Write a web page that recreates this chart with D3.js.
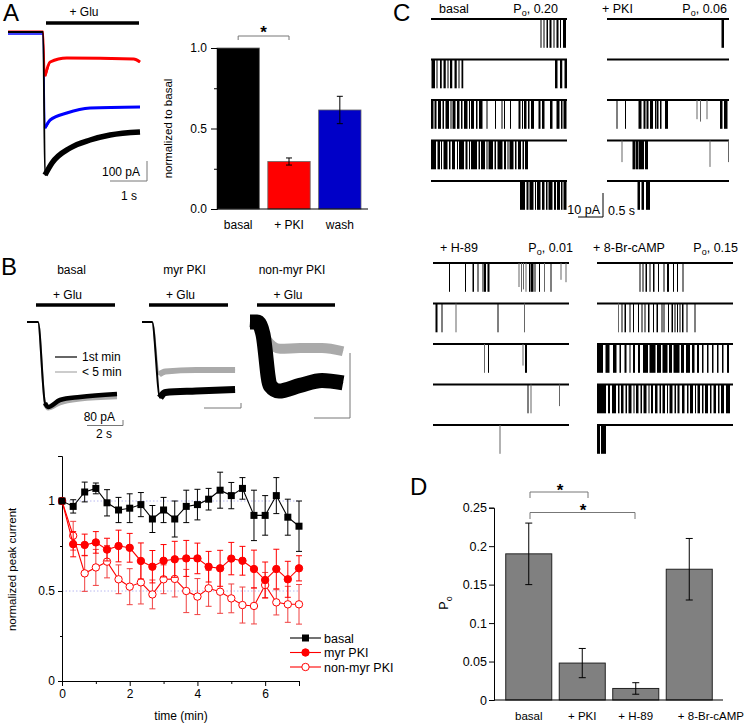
<!DOCTYPE html>
<html>
<head>
<meta charset="utf-8">
<script src="https://cdn.jsdelivr.net/npm/d3@7"></script>
<style>
	body { margin: 0; background: #fff; }
	svg { font-family: 'Liberation Sans', Arial, sans-serif; }
</style>
</head>
<body>
<div id="figure"></div>
<script>
// ---------- data ----------
// panel A, bar chart (normalized to basal)
const aCategories = ['basal', '+ PKI', 'wash'];
const aValues = [1.0, 0.295, 0.615];
const aErrors = [0, 0.022, 0.085];
const aColors = ['#000000', '#ff0000', '#0000c8'];
const aTicks = [0, 0.25, 0.5, 0.75, 1];

// panel A, whole-cell traces: [time (s), current (pA)]
const aTraceBasal = [[0, 0], [0.95, 0], [1.0, -715], [1.19, -655], [1.68, -580], [2.22, -540], [2.76, -515], [3.57, -500]];
const aTracePKI = [[0, 3], [0.95, 3], [1.0, -220], [1.14, -150], [1.59, -130], [3.4, -135], [3.57, -150]];
const aTraceWash = [[0, -10], [0.95, -10], [1.0, -480], [1.14, -440], [1.59, -405], [2.22, -380], [3.57, -375]];

// panel B, traces: [time (s), current (pA)], 1st min (black) and < 5 min (gray)
const bBasalFirst = [[0, 0], [0.61, 0], [1.0, -1080], [1.17, -1133], [1.83, -1040], [2.94, -1000], [5.0, -960]];
const bBasalLate = [[0, 0], [0.61, 0], [1.0, -1090], [1.17, -1150], [1.83, -1080], [2.94, -1030], [5.0, -1000]];
const bMyrFirst = [[0, 0], [0.56, 0], [1.0, -1010], [1.3, -940], [3.0, -920], [5.17, -900]];
const bMyrLate = [[0, 0], [0.56, 0], [0.95, -700], [1.3, -660], [3.0, -640], [5.17, -640]];
const bNonMyrFirst = [[0, 0], [0.4, 0], [0.72, -15], [1.11, -78], [1.6, -85], [2.78, -78], [4.0, -72], [5.17, -75]];
const bNonMyrLate = [[0, 0], [0.5, -5], [0.94, -22], [1.67, -33], [2.78, -32], [4.0, -32], [5.17, -36]];

// panel B, time course
const bTimes = [0, 0.33, 0.67, 1, 1.33, 1.67, 2, 2.33, 2.67, 3, 3.33, 3.67, 4, 4.33, 4.67, 5, 5.33, 5.67, 6, 6.33, 6.67, 7];
const bBasal = [1, 0.97, 1.05, 1.07, 0.99, 0.95, 0.96, 0.98, 0.9, 0.95, 0.9, 0.97, 0.98, 1.01, 1.06, 1.03, 1.07, 0.92, 0.92, 1.03, 0.91, 0.86];
const bBasalErr = [0, 0.037, 0.055, 0.03, 0.073, 0.07, 0.08, 0.067, 0.075, 0.07, 0.1, 0.09, 0.085, 0.06, 0.1, 0.073, 0.06, 0.14, 0.11, 0.1, 0.1, 0.14];
const bMyr = [1, 0.76, 0.756, 0.77, 0.73, 0.75, 0.74, 0.667, 0.635, 0.668, 0.676, 0.681, 0.681, 0.635, 0.626, 0.68, 0.668, 0.622, 0.561, 0.622, 0.565, 0.626];
const bMyrErr = [0, 0.07, 0.06, 0.06, 0.063, 0.088, 0.08, 0.1, 0.09, 0.09, 0.1, 0.1, 0.085, 0.085, 0.1, 0.09, 0.08, 0.105, 0.1, 0.11, 0.1, 0.07];
const bNonMyr = [1, 0.807, 0.598, 0.631, 0.663, 0.565, 0.524, 0.548, 0.481, 0.565, 0.567, 0.5, 0.469, 0.515, 0.496, 0.459, 0.422, 0.417, 0.533, 0.437, 0.426, 0.426];
const bNonMyrErr = [0, 0.08, 0.1, 0.1, 0.09, 0.08, 0.1, 0.12, 0.08, 0.08, 0.1, 0.12, 0.1, 0.1, 0.12, 0.08, 0.1, 0.1, 0.07, 0.07, 0.1, 0.11];
const bSeriesNames = ['basal', 'myr PKI', 'non-myr PKI'];

// panel C, single-channel openings per sweep: [start (s), duration (s), amplitude (pA, default 12)]
const cBasalRows = [
	[[2.19, 0.02], [2.25, 0.02], [2.31, 0.03], [2.37, 0.04], [2.45, 0.02], [2.51, 0.04], [2.58, 0.02], [2.64, 0.06]],
	[[0.01, 0.07], [0.11, 0.02], [0.18, 0.035], [0.25, 0.045], [0.33, 0.02], [0.38, 0.045], [0.47, 0.045], [0.55, 0.02], [0.61, 0.035], [2.48, 0.05], [2.58, 0.045], [2.67, 0.05]],
	[[0.0, 0.05], [0.07, 0.04], [0.14, 0.06], [0.23, 0.03], [0.29, 0.07], [0.39, 0.02], [0.43, 0.06], [0.52, 0.05], [0.6, 0.03], [0.66, 0.07], [0.76, 0.02], [0.8, 0.06], [0.9, 0.03], [0.96, 0.07], [1.11, 0.02], [1.28, 0.02], [1.41, 0.02], [1.46, 0.02], [1.58, 0.02], [1.75, 0.04], [1.82, 0.02], [1.86, 0.05], [1.94, 0.03], [2.0, 0.06], [2.15, 0.04], [2.22, 0.05], [2.38, 0.05], [2.51, 0.06], [2.6, 0.03], [2.65, 0.06]],
	[[0.0, 0.1], [0.13, 0.05], [0.2, 0.02], [0.25, 0.08], [0.36, 0.03], [0.42, 0.06], [0.52, 0.02], [0.56, 0.1], [0.69, 0.04], [0.76, 0.02], [0.8, 0.12], [0.95, 0.03], [1.0, 0.08], [1.11, 0.02], [1.15, 0.09], [1.27, 0.03], [1.33, 0.1], [1.46, 0.04], [1.53, 0.02], [1.57, 0.08], [1.68, 0.03], [1.74, 0.06], [1.83, 0.03], [1.88, 0.06]],
	[[1.78, 0.1], [1.91, 0.04], [1.97, 0.08], [2.08, 0.02], [2.12, 0.07], [2.22, 0.05], [2.3, 0.03], [2.35, 0.08], [2.46, 0.04], [2.52, 0.06], [2.6, 0.03], [2.65, 0.06]]
];
const cPKIRows = [
	[[2.29, 0.05]],
	[],
	[[0.19, 0.02], [0.36, 0.02], [0.63, 0.06], [0.73, 0.04], [0.79, 0.04], [0.86, 0.06], [0.96, 0.03], [1.0, 0.03], [1.06, 0.03], [1.16, 0.06], [1.79, 0.01, 8], [1.86, 0.01, 9], [1.99, 0.01, 8], [2.26, 0.05], [2.34, 0.07]],
	[[0.29, 0.01, 9], [0.51, 0.06], [0.58, 0.05], [0.64, 0.1], [0.76, 0.06], [2.05, 0.01, 11], [2.42, 0.01, 9]],
	[[0.61, 0.05], [0.69, 0.05], [0.78, 0.08]]
];
const cH89Rows = [
	[[0.32, 0.02], [0.64, 0.02], [0.79, 0.03], [0.89, 0.02], [0.99, 0.02], [1.02, 0.04], [1.09, 0.04], [1.71, 0.01, 10], [1.76, 0.01], [1.8, 0.01, 11], [1.85, 0.01], [1.92, 0.02], [1.95, 0.06], [2.03, 0.02], [2.12, 0.02], [2.22, 0.01], [2.35, 0.02], [2.55, 0.01, 7], [2.65, 0.01, 8]],
	[[0.05, 0.04], [0.17, 0.02], [0.45, 0.01], [1.29, 0.02], [1.82, 0.01]],
	[[1.02, 0.01], [1.1, 0.02], [1.79, 0.01, 9], [1.84, 0.04]],
	[[1.89, 0.02], [1.95, 0.01], [2.52, 0.01, 9]],
	[[1.33, 0.01]]
];
const cCampRows = [
	[[0.85, 0.02], [0.91, 0.02], [0.97, 0.03], [1.05, 0.02], [1.12, 0.03], [1.22, 0.02], [1.33, 0.02], [1.4, 0.04], [1.52, 0.02], [1.6, 0.02], [1.71, 0.02]],
	[[0.42, 0.01], [0.49, 0.02], [0.55, 0.03], [0.65, 0.02], [0.72, 0.02], [0.82, 0.02], [0.89, 0.02], [0.95, 0.02], [1.02, 0.03], [1.12, 0.02], [1.19, 0.03], [1.29, 0.02], [1.33, 0.02], [1.42, 0.02], [1.49, 0.03], [1.55, 0.02], [1.6, 0.02], [1.65, 0.02], [1.7, 0.03], [1.79, 0.02], [1.95, 0.02]],
	[[0, 0.12], [0.17, 0.08], [0.32, 0.07], [0.45, 0.03], [0.55, 0.04], [0.65, 0.02], [0.72, 0.04], [0.82, 0.04], [0.92, 0.1], [1.05, 0.12], [1.2, 0.08], [1.31, 0.1], [1.44, 0.06], [1.53, 0.12], [1.68, 0.06], [1.78, 0.08], [1.9, 0.05], [2.0, 0.04], [2.1, 0.03], [2.2, 0.03], [2.3, 0.03], [2.4, 0.03], [2.5, 0.03], [2.6, 0.04]],
	[[0.0, 0.18], [0.22, 0.04], [0.3, 0.08], [0.42, 0.03], [0.48, 0.05], [0.57, 0.03], [0.63, 0.06], [0.73, 0.02], [0.78, 0.05], [0.87, 0.03], [0.93, 0.06], [1.03, 0.02], [1.08, 0.04], [1.16, 0.05], [1.25, 0.03], [1.31, 0.05], [1.4, 0.02], [1.45, 0.06], [1.55, 0.03], [1.61, 0.04], [1.7, 0.05], [1.8, 0.03], [1.86, 0.06], [1.96, 0.02], [2.01, 0.05], [2.1, 0.03], [2.16, 0.06], [2.26, 0.03], [2.33, 0.05], [2.42, 0.03], [2.48, 0.06], [2.58, 0.08]],
	[[0, 0.06], [0.08, 0.1]]
];
const cSweepLength = [2.72, 2.44, 2.72, 2.72]; // s
const cConditions = ['basal', '+ PKI', '+ H-89', '+ 8-Br-cAMP'];
const cPo = ['0.20', '0.06', '0.01', '0.15'];

// panel D, open probability
const dCategories = ['basal', '+ PKI', '+ H-89', '+ 8-Br-cAMP'];
const dValues = [0.19, 0.048, 0.015, 0.17];
const dErrors = [0.04, 0.019, 0.0075, 0.04];
const dTicks = [0, 0.05, 0.1, 0.15, 0.2, 0.25];

// ---------- drawing ----------
const svg = d3.select('#figure').append('svg').attr('width', 745).attr('height', 723);

const letter = (txt, x, y) => {
	svg.append('text').attr('x', x).attr('y', y).attr('font-size', 24).text(txt);
};
const label = (g, txt, x, y, anchor, size) => {
	return g.append('text').attr('x', x).attr('y', y).attr('text-anchor', anchor || 'middle').attr('font-size', size || 12).text(txt);
};
const styleAxis = (g, size) => {
	g.selectAll('path.domain').attr('stroke', '#000');
	g.selectAll('.tick line').attr('stroke', '#000');
	g.selectAll('.tick text').attr('font-size', size || 12).attr('font-family', null).attr('fill', '#000');
};
const errPath = (cx, hi, lo, cap) => 'M' + (cx - cap) + ',' + hi + 'H' + (cx + cap) + 'M' + cx + ',' + hi + 'V' + lo + 'M' + (cx - cap) + ',' + lo + 'H' + (cx + cap);
const traceLine = (xs, ys) => d3.line().x((d) => xs(d[0])).y((d) => ys(d[1])).curve(d3.curveMonotoneX);
// thin line for the whole trace, then a wide band (the noise) from the peak onwards
const drawTrace = (g, xs, ys, pts, color, thin, wide, from) => {
	g.append('path').attr('d', traceLine(xs, ys)(pts)).attr('fill', 'none').attr('stroke', color).attr('stroke-width', thin).attr('stroke-linejoin', 'round');
	g.append('path').attr('d', traceLine(xs, ys)(pts.slice(from))).attr('fill', 'none').attr('stroke', color).attr('stroke-width', wide).attr('stroke-linejoin', 'round');
};

letter('A', 3, 21);
letter('B', 1, 275);
letter('C', 393, 21);
letter('D', 410, 495);

// ===== panel A traces =====
var gAt = svg.append('g');
var atX = d3.scaleLinear().domain([0, 3.57]).range([8, 140]);
var atY = d3.scaleLinear().domain([0, -100]).range([32, 52]); // 100 pA = 20 px
drawTrace(gAt, atX, atY, aTraceWash, '#0000ff', 1.6, 3, 2);
drawTrace(gAt, atX, atY, aTracePKI, '#ff0000', 1.6, 3, 2);
drawTrace(gAt, atX, atY, aTraceBasal, '#000', 1.8, 5.5, 2);
gAt.append('line').attr('x1', 46).attr('x2', 139).attr('y1', 23).attr('y2', 23).attr('stroke', '#000').attr('stroke-width', 3.5);
label(gAt, '+ Glu', 84, 16, 'middle', 12);
// scale bar 100 pA / 1 s
gAt.append('path').attr('d', 'M110,181H147V161').attr('fill', 'none').attr('stroke', '#777').attr('stroke-width', 1);
label(gAt, '100 pA', 140, 176, 'end', 12);
label(gAt, '1 s', 137, 200, 'end', 12);

// ===== panel A bars =====
var gA = svg.append('g');
var aX = d3.scaleBand().domain(aCategories).range([217, 361]).paddingInner(0.167).paddingOuter(0);
var aY = d3.scaleLinear().domain([0, 1]).range([209, 48]);

gA.selectAll('rect.bar')
	.data(aValues)
	.enter()
	.append('rect')
	.attr('class', 'bar')
	.attr('x', (d, i) => aX(aCategories[i]))
	.attr('y', (d) => aY(d))
	.attr('width', aX.bandwidth())
	.attr('height', (d) => aY(0) - aY(d))
	.attr('fill', (d, i) => aColors[i])
	.attr('stroke', '#666')
	.attr('stroke-width', 0.8);

gA.selectAll('path.err')
	.data(aValues)
	.enter()
	.append('path')
	.attr('class', 'err')
	.attr('d', (d, i) => aErrors[i] > 0 ? errPath(aX(aCategories[i]) + aX.bandwidth() / 2, aY(d + aErrors[i]), aY(d - aErrors[i]), 3) : null)
	.attr('stroke', '#000')
	.attr('fill', 'none');

var aAxis = gA.append('g')
	.attr('transform', 'translate(217,0)')
	.call(d3.axisLeft(aY).tickValues(aTicks).tickSize(6).tickPadding(4).tickFormat((d) => (d * 2) % 1 === 0 ? d3.format('.1f')(d) : ''));
styleAxis(aAxis, 12);
aAxis.selectAll('.tick line').filter((d) => (d * 2) % 1 !== 0).attr('x2', -3);
gA.append('line').attr('x1', 217).attr('x2', 368).attr('y1', aY(0)).attr('y2', aY(0)).attr('stroke', '#000');
aCategories.forEach((c) => label(gA, c, aX(c) + aX.bandwidth() / 2, 229, 'middle', 12));
label(gA, 'normalized to basal', 0, 0, 'middle', 11.5).attr('transform', 'translate(172,' + aY(0.5) + ') rotate(-90)');
// significance bracket basal vs +PKI
var ax1 = aX('basal') + aX.bandwidth() / 2, ax2 = aX('+ PKI') + aX.bandwidth() / 2;
gA.append('path').attr('d', 'M' + ax1 + ',40V36H' + ax2 + 'V40').attr('fill', 'none').attr('stroke', '#777');
label(gA, '*', (ax1 + ax2) / 2, 38, 'middle', 17).attr('font-weight', 'bold');

// ===== panel B traces =====
var gBt = svg.append('g');
var bPanels = [
	{ x0: 27, name: 'basal', glu: [36, 115], first: bBasalFirst, late: bBasalLate, pxPer80: 6, wF: 4.5, wL: 4.5, from: 2 },
	{ x0: 142, name: 'myr PKI', glu: [149, 228], first: bMyrFirst, late: bMyrLate, pxPer80: 6, wF: 7, wL: 6, from: 2 },
	{ x0: 250, name: 'non-myr PKI', glu: [257, 335], first: bNonMyrFirst, late: bNonMyrLate, pxPer80: 65, wF: 15, wL: 10, from: 0 }
];
bPanels.forEach((p) => {
	var xs = d3.scaleLinear().domain([0, 1]).range([p.x0, p.x0 + 18]); // 2 s = 36 px
	var ys = d3.scaleLinear().domain([0, -80]).range([322, 322 + p.pxPer80]);
	drawTrace(gBt, xs, ys, p.late, '#aaaaaa', 2, p.wL, p.from);
	drawTrace(gBt, xs, ys, p.first, '#000', 2, p.wF, p.from);
	gBt.append('line').attr('x1', p.glu[0]).attr('x2', p.glu[1]).attr('y1', 305).attr('y2', 305).attr('stroke', '#000').attr('stroke-width', 3.5);
	label(gBt, '+ Glu', (p.glu[0] + p.glu[1]) / 2 - 8, 299, 'middle', 12);
	label(gBt, p.name, (p.glu[0] + p.glu[1]) / 2 - 4, 274, 'middle', 12);
});
// legend of trace panel
gBt.append('line').attr('x1', 55).attr('x2', 77).attr('y1', 357).attr('y2', 357).attr('stroke', '#000').attr('stroke-width', 1.2);
gBt.append('line').attr('x1', 55).attr('x2', 77).attr('y1', 372).attr('y2', 372).attr('stroke', '#aaa').attr('stroke-width', 1.2);
label(gBt, '1st min', 82, 361, 'start', 12);
label(gBt, '< 5 min', 82, 376, 'start', 12);
// scale bars
gBt.append('path').attr('d', 'M87,425.5H123V420').attr('fill', 'none').attr('stroke', '#777');
label(gBt, '80 pA', 115, 421, 'end', 12);
label(gBt, '2 s', 104, 438, 'middle', 12);
gBt.append('path').attr('d', 'M204,408H241V403').attr('fill', 'none').attr('stroke', '#777');
gBt.append('path').attr('d', 'M314,418H350V353').attr('fill', 'none').attr('stroke', '#777');

// ===== panel B time course =====
var gB = svg.append('g');
var bX = d3.scaleLinear().domain([0, 7]).range([62, 299]);
var bY = d3.scaleLinear().domain([0, 1.25]).range([681, 456]);

[1, 0.5].forEach((v) => {
	gB.append('line').attr('x1', bX(0)).attr('x2', bX(7)).attr('y1', bY(v)).attr('y2', bY(v))
		.attr('stroke', '#b8b8f0').attr('stroke-dasharray', '1.5,2').attr('stroke-width', 1);
});

var bxAxis = gB.append('g').attr('transform', 'translate(0,681)')
	.call(d3.axisBottom(bX).tickValues([0, 1, 2, 3, 4, 5, 6, 7]).tickSize(5).tickFormat((d) => d % 2 === 0 ? d : ''));
styleAxis(bxAxis, 12);
bxAxis.selectAll('.tick line').filter((d) => d % 2 !== 0).attr('y2', 3);
var byAxis = gB.append('g').attr('transform', 'translate(62,0)')
	.call(d3.axisLeft(bY).tickValues([0, 0.25, 0.5, 0.75, 1, 1.25]).tickSize(4).tickPadding(3).tickFormat((d) => (d * 2) % 1 === 0 && d <= 1 ? d : ''));
styleAxis(byAxis, 12);
byAxis.selectAll('.tick line').filter((d) => (d * 2) % 1 !== 0).attr('x2', -2);
label(gB, 'time (min)', 181, 720, 'middle', 12);
label(gB, 'normalized peak current', 0, 0, 'middle', 11.5).attr('transform', 'translate(16,' + bY(0.62) + ') rotate(-90)');

var bSeries = [
	{ v: bNonMyr, e: bNonMyrErr, color: '#ff0000', err: '#f04040', shape: 'open' },
	{ v: bMyr, e: bMyrErr, color: '#ff0000', err: '#ff0000', shape: 'dot' },
	{ v: bBasal, e: bBasalErr, color: '#000', err: '#000', shape: 'square' }
];
bSeries.forEach((s) => {
	var g = gB.append('g');
	g.selectAll('path.err')
		.data(s.v)
		.enter()
		.append('path')
		.attr('class', 'err')
		.attr('d', (d, i) => s.e[i] > 0 ? errPath(bX(bTimes[i]), bY(d + s.e[i]), bY(d - s.e[i]), 3) : null)
		.attr('stroke', s.err)
		.attr('fill', 'none');
	g.append('path')
		.datum(s.v)
		.attr('d', d3.line().x((d, i) => bX(bTimes[i])).y((d) => bY(d)))
		.attr('fill', 'none')
		.attr('stroke', s.color)
		.attr('stroke-width', 1.1);
	if (s.shape === 'square') {
		g.selectAll('rect')
			.data(s.v)
			.enter()
			.append('rect')
			.attr('x', (d, i) => bX(bTimes[i]) - 3.5)
			.attr('y', (d) => bY(d) - 3.5)
			.attr('width', 7)
			.attr('height', 7)
			.attr('fill', '#000');
	} else {
		g.selectAll('circle')
			.data(s.v)
			.enter()
			.append('circle')
			.attr('cx', (d, i) => bX(bTimes[i]))
			.attr('cy', (d) => bY(d))
			.attr('r', 3.7)
			.attr('fill', s.shape === 'open' ? '#fff' : '#ff0000')
			.attr('stroke', '#ff0000')
			.attr('stroke-width', 1);
	}
});
// legend
var legendY = [638, 652.5, 667];
var legendSeries = [bSeries[2], bSeries[1], bSeries[0]];
legendSeries.forEach((s, i) => {
	var y = legendY[i];
	gB.append('line').attr('x1', 290).attr('x2', 321).attr('y1', y).attr('y2', y).attr('stroke', s.color).attr('stroke-width', 1.1);
	if (s.shape === 'square') {
		gB.append('rect').attr('x', 302).attr('y', y - 3.5).attr('width', 7).attr('height', 7).attr('fill', '#000');
	} else {
		gB.append('circle').attr('cx', 305.5).attr('cy', y).attr('r', 3.7).attr('fill', s.shape === 'open' ? '#fff' : '#ff0000').attr('stroke', '#ff0000');
	}
	label(gB, bSeriesNames[i], 324, y + 4.5, 'start', 12.5);
});

// ===== panel C single channel =====
var gC = svg.append('g');
var cColumns = [
	{ rows: cBasalRows, x0: 431, top: 19, head: 13, condX: 439, poX: 558 },
	{ rows: cPKIRows, x0: 607, top: 19, head: 13, condX: 602, poX: 727 },
	{ rows: cH89Rows, x0: 433, top: 263, head: 252, condX: 440, poX: 573 },
	{ rows: cCampRows, x0: 597, top: 263, head: 252, condX: 593, poX: 738 }
];
var cAmp = d3.scaleLinear().domain([0, 10]).range([0, 24]); // 10 pA = 24 px
cColumns.forEach((col, ci) => {
	var xs = d3.scaleLinear().domain([0, 1]).range([col.x0, col.x0 + 50]); // 0.5 s = 25 px
	var rowY = d3.scaleLinear().domain([0, 4]).range([col.top, col.top + 162]);
	col.rows.forEach((events, ri) => {
		var y = rowY(ri);
		gC.append('line')
			.attr('x1', xs(0)).attr('x2', xs(cSweepLength[ci]))
			.attr('y1', y).attr('y2', y)
			.attr('stroke', '#000').attr('stroke-width', 2.2);
		gC.selectAll(null)
			.data(events)
			.enter()
			.append('rect')
			.attr('x', (d) => xs(d[0]))
			.attr('y', y)
			.attr('width', (d) => Math.max(1, xs(d[1]) - xs(0)))
			.attr('height', (d) => cAmp(d[2] || 12))
			.attr('fill', (d) => (d[1] <= 0.01 ? '#666' : '#000'));
	});
	label(gC, cConditions[ci], col.condX, col.head, 'start', 12.5);
	var po = gC.append('text').attr('x', col.poX).attr('y', col.head).attr('text-anchor', 'end').attr('font-size', 12.5);
	po.append('tspan').text('P');
	po.append('tspan').attr('font-size', 9).attr('dy', 3).text('o');
	po.append('tspan').attr('dy', -3).text(', ' + cPo[ci]);
});
// scale bar 10 pA / 0.5 s
gC.append('path').attr('d', 'M578,217H603V193').attr('fill', 'none').attr('stroke', '#000').attr('stroke-width', 1);
label(gC, '10 pA', 600, 214, 'end', 12.5);
label(gC, '0.5 s', 608, 215, 'start', 12.5);

// ===== panel D bars =====
var gD = svg.append('g');
var dX = d3.scaleBand().domain(dCategories).range([502, 716]).paddingInner(0.14).paddingOuter(0.07);
var dY = d3.scaleLinear().domain([0, 0.25]).range([700, 507.7]);

gD.selectAll('rect')
	.data(dValues)
	.enter()
	.append('rect')
	.attr('x', (d, i) => dX(dCategories[i]))
	.attr('y', (d) => dY(d))
	.attr('width', dX.bandwidth())
	.attr('height', (d) => dY(0) - dY(d))
	.attr('fill', '#808080')
	.attr('stroke', '#222')
	.attr('stroke-width', 1);

gD.selectAll('path.err')
	.data(dValues)
	.enter()
	.append('path')
	.attr('class', 'err')
	.attr('d', (d, i) => errPath(dX(dCategories[i]) + dX.bandwidth() / 2, dY(d + dErrors[i]), dY(d - dErrors[i]), 3.5))
	.attr('stroke', '#000')
	.attr('fill', 'none');

var dAxis = gD.append('g').attr('transform', 'translate(494,0)')
	.call(d3.axisLeft(dY).tickValues(dTicks).tickSize(5).tickPadding(2).tickFormat((d) => d3.format('')(+d.toFixed(2))));
styleAxis(dAxis, 12.5);
gD.append('line').attr('x1', 494).attr('x2', 723).attr('y1', 700).attr('y2', 700).attr('stroke', '#000');
// category labels; the last one runs to the right edge as in the figure
dCategories.forEach((c, i) => {
	if (i < 3) {
		label(gD, c, dX(c) + dX.bandwidth() / 2, 720, 'middle', 11.5);
	} else {
		label(gD, c, 744, 720, 'end', 11.5);
	}
});
var dLab = gD.append('text').attr('transform', 'translate(448,603) rotate(-90)').attr('text-anchor', 'middle').attr('font-size', 12.5);
dLab.append('tspan').text('P');
dLab.append('tspan').attr('font-size', 9).attr('dy', 4).text('o');
// significance brackets
gD.append('path').attr('d', 'M530,498V492H588V498').attr('fill', 'none').attr('stroke', '#777');
label(gD, '*', 560, 496, 'middle', 17).attr('font-weight', 'bold');
gD.append('path').attr('d', 'M530,519V512.5H635V519').attr('fill', 'none').attr('stroke', '#777');
label(gD, '*', 583, 516, 'middle', 17).attr('font-weight', 'bold');
</script>
</body>
</html>
